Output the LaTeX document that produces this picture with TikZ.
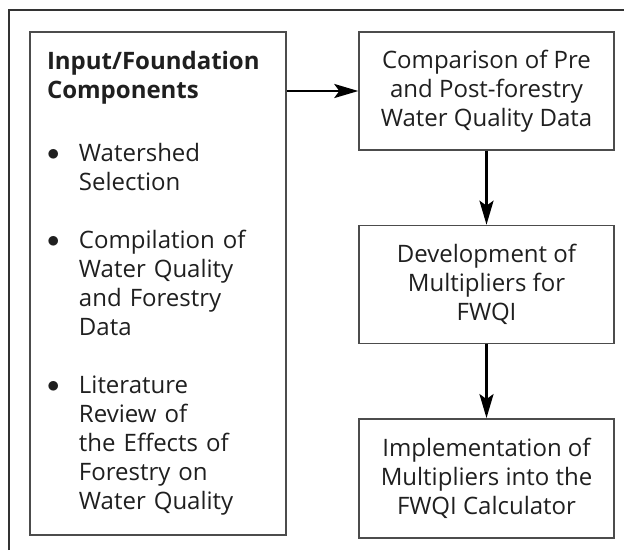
\documentclass[tikz,border=0pt]{standalone}
\usepackage{fontspec}
\setmainfont{Open Sans}
\usetikzlibrary{arrows.meta,positioning}

\tikzset{
  box/.style={draw=black!70, line width=1.4pt, inner sep=0pt, align=center},
  flow/.style={line width=2.7pt, -{Stealth[length=24pt,width=14pt,inset=5pt]}}
}
\newcommand{\bul}{\makebox[32pt][l]{\raisebox{1pt}{$\bullet$}}}
\newcommand{\ind}{\hspace*{32pt}}

\begin{document}
\begin{tikzpicture}[x=1pt,y=-1pt,font=\fontsize{24}{29}\selectfont,text=black!88]
\useasboundingbox (0,0) rectangle (624,550);
% outer frame, only top and left edges show
\draw[line width=1.4pt,black!80] (9,550) -- (9,10) -- (624,10);

\node[box,minimum width=256pt,minimum height=503pt,text width=222pt,align=left] (inputs) at (158,283.5)
  {\textbf{Input/Foundation}\\\textbf{Components}\\[34pt]
   \bul Watershed\\\ind Selection\\[29pt]
   \bul Compilation of\\\ind Water Quality\\\ind and Forestry\\\ind Data\\[29pt]
   \bul Literature\\\ind Review of\\\ind the Effects of\\\ind Forestry on\\\ind Water Quality};

\node[box,minimum width=255pt,minimum height=118pt] (compare) at (486.5,91)
  {Comparison of Pre\\and Post-forestry\\Water Quality Data};
\node[box,minimum width=255pt,minimum height=118pt,below=74pt of compare] (multi)
  {Development of\\Multipliers for\\FWQI};
\node[box,minimum width=255pt,minimum height=119pt,below=74pt of multi] (calc)
  {Implementation of\\Multipliers into the\\FWQI Calculator};

\draw[flow] (inputs.east |- compare.west) -- (compare.west);
\draw[flow] (compare) -- (multi);
\draw[flow] (multi) -- (calc);
\end{tikzpicture}
\end{document}
